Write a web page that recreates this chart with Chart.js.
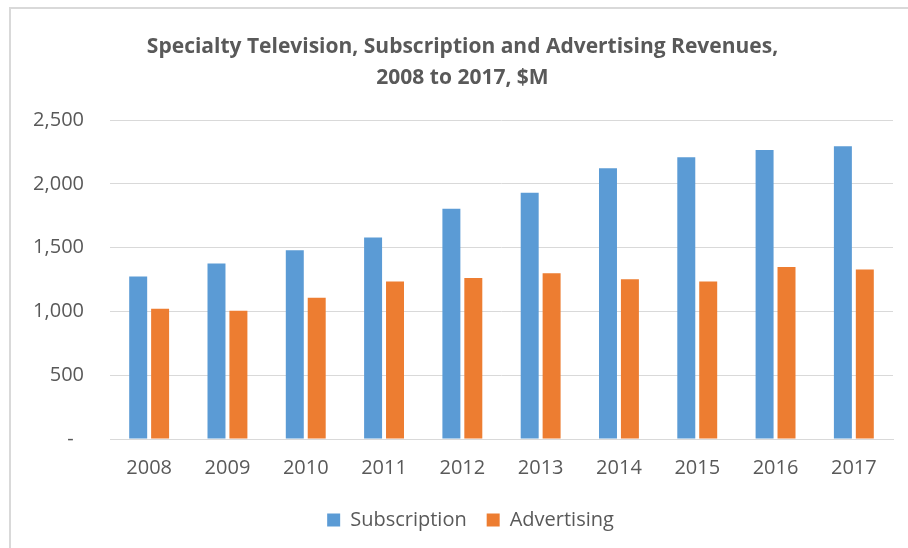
<!DOCTYPE html>
<html>
<head>
<meta charset="utf-8">
<script src="https://cdn.jsdelivr.net/npm/chart.js@4"></script>
<style>
  html, body { margin: 0; padding: 0; background: #fff; overflow: hidden; width: 908px; height: 548px; }
  .wrap { position: absolute; left: 0; top: 0; width: 924px; height: 548px; }
  .frame-top { position: absolute; left: 9px; top: 7px; width: 920px; height: 2px; background: #d9d9d9; }
  .frame-left { position: absolute; left: 9px; top: 7px; width: 2px; height: 560px; background: #d9d9d9; }
</style>
</head>
<body>
<div class="wrap"><canvas id="revenue-chart"></canvas></div>
<div class="frame-top"></div>
<div class="frame-left"></div>
<script>
const years = ['2008', '2009', '2010', '2011', '2012', '2013', '2014', '2015', '2016', '2017'];
const subscription = [1274, 1376, 1480, 1580, 1805, 1931, 2123, 2209, 2267, 2296];
const advertising = [1022, 1006, 1108, 1234, 1263, 1300, 1252, 1234, 1349, 1329];
const yTicks = [0, 500, 1000, 1500, 2000, 2500];

const textColor = '#595959';
const gridColor = '#d9d9d9';
const font = 'Open Sans';

// title and legend are centred on the whole frame in the original, not the padded box
const boxShift = {
  id: 'boxShift',
  afterLayout(chart) {
    chart.titleBlock.left += 16;
    chart.titleBlock.right += 16;
    chart.legend.left += 24;
    chart.legend.right += 24;
  },
};

const ctx = document.getElementById('revenue-chart').getContext('2d');
new Chart(ctx, {
  type: 'bar',
  data: {
    labels: years,
    datasets: [
      {
        label: 'Subscription',
        data: subscription,
        backgroundColor: '#5b9bd5',
        categoryPercentage: 0.56,
        barPercentage: 0.82,
      },
      {
        label: 'Advertising',
        data: advertising,
        backgroundColor: '#ed7d31',
        categoryPercentage: 0.56,
        barPercentage: 0.82,
      },
    ],
  },
  plugins: [boxShift],
  options: {
    responsive: true,
    maintainAspectRatio: false,
    animation: false,
    layout: { padding: { left: 0, right: 31, top: 0, bottom: 8 } },
    plugins: {
      title: {
        display: true,
        text: ['Specialty Television, Subscription and Advertising Revenues,', '2008 to 2017, $M'],
        color: textColor,
        font: { family: font, size: 21, weight: 'bold', lineHeight: 1.48 },
        padding: { top: 31, bottom: 27 },
      },
      legend: {
        position: 'bottom',
        labels: {
          color: textColor,
          font: { family: font, size: 20 },
          boxWidth: 13,
          boxHeight: 13,
          padding: 20,
        },
      },
      tooltip: { enabled: false },
    },
    scales: {
      x: {
        afterFit: (scale) => {
          scale.height = 51;
        },
        grid: { display: false, drawTicks: false },
        border: { display: true, color: gridColor, width: 1 },
        ticks: { color: textColor, font: { family: font, size: 20 }, padding: 17 },
      },
      y: {
        min: 0,
        max: 2500,
        afterBuildTicks: (scale) => {
          scale.ticks = yTicks.map((v) => ({ value: v }));
        },
        afterFit: (scale) => {
          scale.width = 110;
        },
        grid: { color: gridColor, lineWidth: 1, drawTicks: false },
        border: { display: false },
        ticks: {
          color: textColor,
          font: { family: font, size: 20 },
          padding: 26,
          callback: (v) => (v === 0 ? '-  ' : v.toLocaleString('en-US')),
        },
      },
    },
  },
});
</script>
</body>
</html>
